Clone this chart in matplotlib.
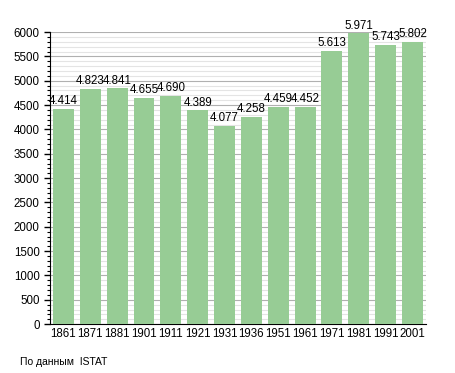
import matplotlib.pyplot as plt
from matplotlib.ticker import MultipleLocator

years = ['1861', '1871', '1881', '1901', '1911', '1921', '1931', '1936',
         '1951', '1961', '1971', '1981', '1991', '2001']
population = [4414, 4823, 4841, 4655, 4690, 4389, 4077, 4258,
              4459, 4452, 5613, 5971, 5743, 5802]
labels = ['4.414', '4.823', '4.841', '4.655', '4.690', '4.389', '4.077', '4.258',
          '4.459', '4.452', '5.613', '5.971', '5.743', '5.802']

plt.rcParams['font.family'] = ['Liberation Sans', 'DejaVu Sans']

fig = plt.figure(figsize=(4.55, 3.73), dpi=100)
ax = fig.add_axes([0.110, 0.131, 0.826, 0.783])

x = range(len(years))
ax.bar(x, population, width=0.78, color='#97cc95', zorder=3)
for i, v in enumerate(population):
    ax.text(i, v + 40, labels[i], ha='center', va='bottom', fontsize=8.3, zorder=4)

ax.set_xlim(-0.5, len(years) - 0.5)
ax.set_ylim(0, 6000)
ax.set_xticks(list(x))
ax.set_xticklabels(years, fontsize=8.3)
ax.yaxis.set_major_locator(MultipleLocator(500))
ax.yaxis.set_minor_locator(MultipleLocator(100))
ax.tick_params(axis='y', labelsize=8.3, length=4, width=1)
ax.tick_params(axis='y', which='minor', length=2, width=0.8)
ax.tick_params(axis='x', length=0, pad=3)

ax.grid(axis='y', which='minor', color='#e4e4e4', linewidth=0.8, zorder=1)
ax.grid(axis='y', which='major', color='#b0b0b0', linewidth=0.8, zorder=1)

for s in ['top', 'right']:
    ax.spines[s].set_visible(False)
ax.spines['left'].set_color('black')
ax.spines['bottom'].set_color('black')

fig.text(20 / 455, 1 - 362 / 373, 'По данным  ISTAT', fontsize=7.5, va='center', ha='left')

fig.savefig('out.png', dpi=100)
